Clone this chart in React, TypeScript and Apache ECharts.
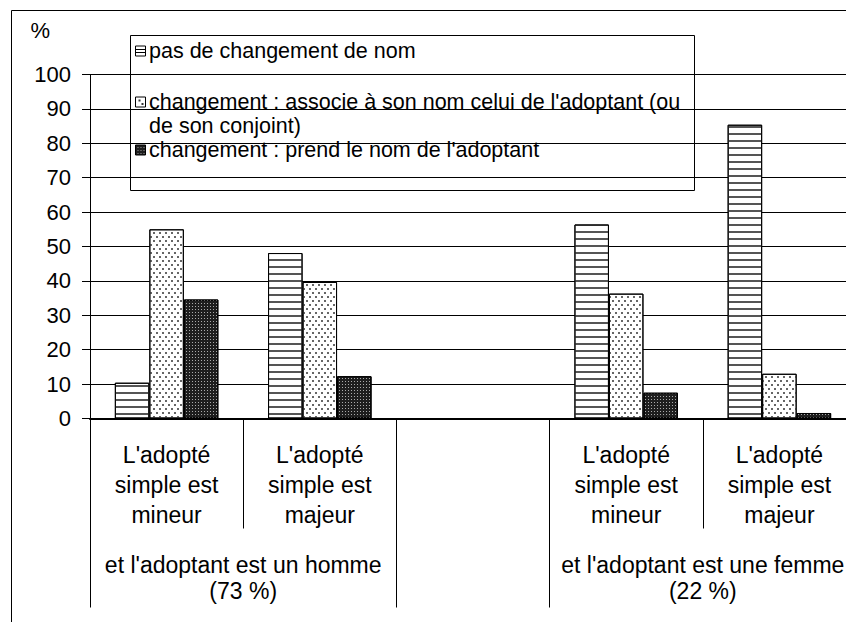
import React, { useEffect, useRef } from "react";
import * as echarts from "echarts";

// ---- data ----
const categories = [
  "L'adopté\nsimple est\nmineur",
  "L'adopté\nsimple est\nmajeur",
  "",
  "L'adopté\nsimple est\nmineur",
  "L'adopté\nsimple est\nmajeur",
];
// second level labels on a half-category scale (11 boundary points)
const groupLabels = [
  "", "", "et l'adoptant est un homme\n(73 %)", "", "", "", "", "",
  "et l'adoptant est une femme\n(22 %)", "", "",
];
const groupDividers = [0, 4, 6, 10];
const seriesNames = [
  "pas de changement de nom",
  "changement : associe à son nom celui de l'adoptant (ou\nde son conjoint)",
  "changement : prend le nom de l'adoptant",
];
const pasDeChangement = [10.4, 48.1, null, 56.4, 85.4];
const associeNom = [55.0, 39.7, null, 36.3, 13.0];
const prendNom = [34.6, 12.3, null, 7.5, 1.6];
const yMin = 0;
const yMax = 100;
const yStep = 10;
const yName = "%";

const FONT = "'Liberation Sans', Arial, sans-serif";

export default function App() {
  const ref = useRef<HTMLDivElement>(null);
  useEffect(() => {
    if (!ref.current) return;
    const chart = echarts.init(ref.current, undefined, { renderer: "svg" });

    const decals = [
      { symbol: "rect", symbolSize: 1, rotation: 0, color: "#555", dashArrayX: [1, 0], dashArrayY: [2, 5] },
      { symbol: "rect", symbolSize: 1, rotation: 0, color: "#666", dashArrayX: [[2, 4], [0, 3, 2, 1]], dashArrayY: [2, 2] },
      { symbol: "rect", symbolSize: 1, rotation: 0, color: "#aaa", dashArrayX: [1, 2], dashArrayY: [1, 2] },
    ];
    const baseColors = ["#fff", "#fff", "#1e1e1e"];
    const values = [pasDeChangement, associeNom, prendNom];

    // legend drawn as graphic
    const lx = 130, ly = 35, lw = 564, lh = 155;
    const rowCenters = [51, 102, 150];
    const legendChildren: any[] = [
      { type: "rect", shape: { x: lx + 0.5, y: ly + 0.5, width: lw, height: lh }, style: { fill: "#fff", stroke: "#000", lineWidth: 1 } },
    ];
    const ix = 135.5;
    legendChildren.push(
      { type: "rect", shape: { x: ix, y: rowCenters[0] - 5, width: 10, height: 10 }, style: { fill: "#fff", stroke: "#000", lineWidth: 1 } },
      { type: "line", shape: { x1: ix, y1: rowCenters[0] - 1.5, x2: ix + 10, y2: rowCenters[0] - 1.5 }, style: { stroke: "#000", lineWidth: 1 } },
      { type: "line", shape: { x1: ix, y1: rowCenters[0] + 1.5, x2: ix + 10, y2: rowCenters[0] + 1.5 }, style: { stroke: "#000", lineWidth: 1 } }
    );
    legendChildren.push(
      { type: "rect", shape: { x: ix, y: rowCenters[1] - 5, width: 10, height: 10 }, style: { fill: "#fff", stroke: "#000", lineWidth: 1 } },
      { type: "rect", shape: { x: ix + 3, y: rowCenters[1] - 2.5, width: 2, height: 2 }, style: { fill: "#333" } },
      { type: "rect", shape: { x: ix + 6, y: rowCenters[1] + 1, width: 2, height: 2 }, style: { fill: "#333" } }
    );
    legendChildren.push(
      { type: "rect", shape: { x: ix, y: rowCenters[2] - 5, width: 10, height: 10 }, style: { fill: "#1e1e1e", stroke: "#000", lineWidth: 1 } }
    );
    for (let a = 0; a < 3; a++) {
      for (let b = 0; b < 3; b++) {
        legendChildren.push({ type: "rect", shape: { x: ix + 2 + a * 3, y: rowCenters[2] - 3 + b * 3, width: 1, height: 1 }, style: { fill: "#999" } });
      }
    }
    seriesNames.forEach((n, i) => {
      legendChildren.push({
        type: "text",
        x: 149,
        y: rowCenters[i] - 12,
        style: { text: n, fontSize: 21.5, fontFamily: FONT, fill: "#000", lineHeight: 24, verticalAlign: "top", align: "left" },
      });
    });

    const option: any = {
      animation: false,
      backgroundColor: "#fff",
      aria: { enabled: true, decal: { show: true } },
      grid: { left: 90, top: 74.5, width: 766, height: 344, containLabel: false },
      legend: { show: false },
      xAxis: [
        {
          type: "category",
          data: categories,
          position: "bottom",
          boundaryGap: true,
          axisLine: { show: true, lineStyle: { color: "#000", width: 2 } },
          axisTick: { show: true, length: 110, lineStyle: { color: "#000", width: 1 } },
          axisLabel: { interval: 0, margin: 21.5, fontSize: 23, lineHeight: 30, color: "#000", fontFamily: FONT, align: "center" },
          splitLine: { show: false },
        },
        {
          type: "category",
          data: groupLabels,
          position: "bottom",
          offset: 0,
          boundaryGap: false,
          axisLine: { show: false },
          axisTick: {
            show: true,
            length: 189,
            interval: (idx: number) => groupDividers.indexOf(idx) >= 0,
            lineStyle: { color: "#000", width: 1 },
          },
          axisLabel: { interval: 0, margin: 133.5, fontSize: 23, lineHeight: 26, color: "#000", fontFamily: FONT, align: "center" },
          splitLine: { show: false },
        },
      ],
      yAxis: {
        type: "value",
        min: yMin,
        max: yMax,
        interval: yStep,
        name: yName,
        nameLocation: "end",
        nameGap: 44.5,
        nameTextStyle: { fontSize: 22, color: "#000", fontFamily: FONT, align: "right", verticalAlign: "middle", padding: [0, 40, 0, 0] },
        axisLine: { show: true, lineStyle: { color: "#000", width: 1 } },
        axisTick: { show: true, length: 8, lineStyle: { color: "#000", width: 1 } },
        axisLabel: { margin: 19, fontSize: 22, color: "#000", fontFamily: FONT },
        splitLine: { show: true, lineStyle: { color: "#000", width: 1 } },
      },
      series: seriesNames.map((name, i) => ({
        name,
        type: "bar",
        xAxisIndex: 0,
        barWidth: 34.5,
        barGap: "0%",
        data: values[i],
        itemStyle: { color: baseColors[i], borderColor: "#000", borderWidth: 1, decal: decals[i] },
        emphasis: { disabled: true },
      })),
      graphic: [
        {
          type: "rect",
          z: 50,
          shape: { x: 11.5, y: 10.5, width: 1000, height: 1000 },
          style: { fill: "none", stroke: "#000", lineWidth: 1 },
          silent: true,
        },
        { type: "group", z: 100, children: legendChildren },
      ],
    };
    chart.setOption(option);
    return () => chart.dispose();
  }, []);
  return (
    <div style={{ position: "fixed", left: 0, top: 0, width: 846, height: 622, overflow: "hidden", background: "#fff" }}>
      <div ref={ref} style={{ position: "absolute", left: 0, top: 0, width: 880, height: 622 }} />
    </div>
  );
}
